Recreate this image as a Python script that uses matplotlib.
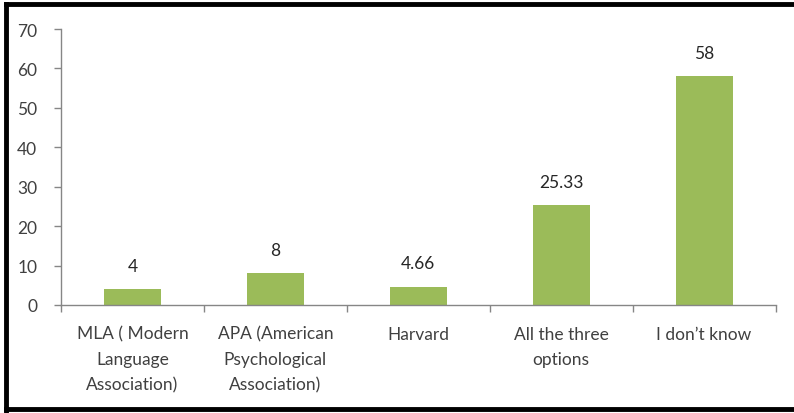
import numpy as np
import matplotlib.pyplot as plt
from matplotlib.lines import Line2D

# data
categories = ['MLA ( Modern\nLanguage\nAssociation)', 'APA (American\nPsychological\nAssociation)',
              'Harvard', 'All the three\noptions', 'I don\u2019t know']
values = [4, 8, 4.66, 25.33, 58]
value_labels = ['4', '8', '4.66', '25.33', '58']
yticks = [0, 10, 20, 30, 40, 50, 60, 70]

plt.rcParams['font.family'] = ['Lato', 'DejaVu Sans']
fig = plt.figure(figsize=(7.94, 4.14), dpi=100)
ax = fig.add_axes([0.0768, 0.261, 0.9, 0.6665])

x = np.arange(len(categories))
ax.bar(x, values, width=0.4, color='#9BBB59', zorder=2)
for xi, v, lab in zip(x, values, value_labels):
    ax.annotate(lab, (xi, v), xytext=(0, 11), textcoords='offset points',
                ha='center', va='bottom', fontsize=12.5, color='#262626')

ax.set_xlim(-0.5, len(categories) - 0.5)
ax.set_ylim(0, 70)
ax.set_yticks(yticks)
ax.set_xticks(x)
ax.set_xticklabels(categories, fontsize=12.5, color='#404040', linespacing=1.7)
ax.set_xticks(np.arange(-0.5, len(categories)), minor=True)
ax.tick_params(axis='x', which='major', length=0, pad=15)
ax.tick_params(axis='x', which='minor', length=5, width=1, color='#868686', direction='out')
ax.tick_params(axis='y', length=5, width=1, color='#868686', labelsize=12.5, labelcolor='#404040', pad=12)

for s in ['top', 'right']:
    ax.spines[s].set_visible(False)
for s in ['left', 'bottom']:
    ax.spines[s].set_color('#868686')
    ax.spines[s].set_linewidth(1)

# thick black frame around the picture (left, top, bottom)
frame_kw = dict(transform=fig.transFigure, color='black', linewidth=3.5)
fig.add_artist(Line2D([0.0075, 0.0075], [0.005, 0.987], **frame_kw))
fig.add_artist(Line2D([0.0075, 1.0], [0.987, 0.987], **frame_kw))
fig.add_artist(Line2D([0.0075, 1.0], [0.0085, 0.0085], **frame_kw))

fig.savefig('out.png', dpi=100)
